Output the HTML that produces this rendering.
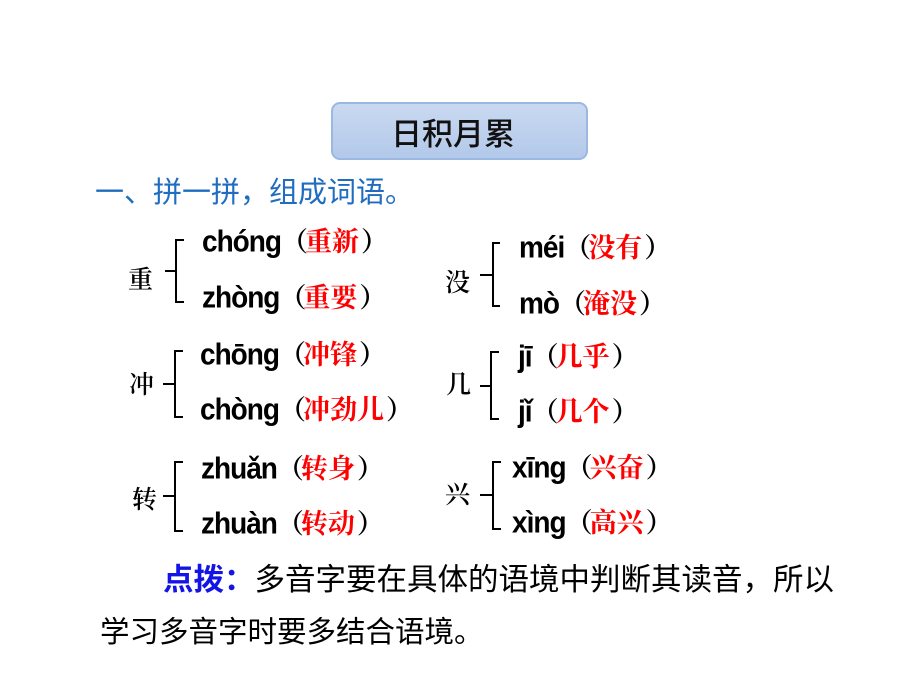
<!DOCTYPE html>
<html><head><meta charset="utf-8"><style>
body{margin:0;width:920px;height:690px;background:#fff;position:relative;overflow:hidden;font-family:"Liberation Sans","Noto Sans CJK SC",sans-serif}
.a{position:absolute;white-space:nowrap;line-height:1}
.title{position:absolute;left:331px;top:102px;width:257px;height:58px;border:2px solid #9bb8e2;border-radius:9px;background:linear-gradient(#c9d9f0,#b3c9ea);box-sizing:border-box}
.py{font-size:28px;color:#000;font-family:"Liberation Sans",sans-serif;font-weight:bold;letter-spacing:-1px;display:inline-block;transform:scaleY(1.08)}
.cn{font-family:"Noto Serif CJK SC",serif;font-size:27px;font-weight:bold}
.r{color:#f00}
.l,.rp{display:inline-block;width:22px}
.l{text-align:right;padding-right:2px}
.rp{text-align:left;padding-left:2px}
.lab{font-family:"Noto Serif CJK SC",serif;font-size:25px;color:#000;font-weight:600}
</style></head><body>
<div class="title"></div>
<div class="a" style="left:391px;top:116px;font-size:31px;font-family:'Noto Sans CJK SC',sans-serif;color:#111;font-weight:500">日积月累</div>
<div class="a" style="left:95px;top:176px;font-size:29px;color:#1f6cc0;font-family:'Noto Sans CJK SC',sans-serif">一、拼一拼，组成词语。</div>

<svg width="920" height="690" style="position:absolute;left:0;top:0" fill="none" stroke="#000" stroke-width="2">
<path d="M184 240 H176 V302 H184 M176 271 H165"/>
<path d="M500 243 H493 V306 H500 M493 275 H480"/>
<path d="M183 351 H175 V417 H183 M175 384 H163"/>
<path d="M499 352 H491 V419 H499 M491 386 H480"/>
<path d="M183 462 H175 V531 H183 M175 496 H163"/>
<path d="M501 462 H493 V529 H501 M493 495 H480"/>
</svg>

<div class="a lab" style="left:128px;top:266px">重</div>
<div class="a" style="left:202px;top:226px"><span class="py">chóng</span><span class="cn"><span class="l">（</span><span class="r">重新</span><span class="rp">）</span></span></div>
<div class="a" style="left:202px;top:282px"><span class="py">zhòng</span><span class="cn"><span class="l">（</span><span class="r">重要</span><span class="rp">）</span></span></div>

<div class="a lab" style="left:445px;top:269px">没</div>
<div class="a" style="left:519px;top:232px"><span class="py">méi</span><span class="cn"><span class="l">（</span><span class="r">没有</span><span class="rp">）</span></span></div>
<div class="a" style="left:519px;top:288px"><span class="py">mò</span><span class="cn"><span class="l">（</span><span class="r">淹没</span><span class="rp">）</span></span></div>

<div class="a lab" style="left:129px;top:371px">冲</div>
<div class="a" style="left:200px;top:339px"><span class="py">chōng</span><span class="cn"><span class="l">（</span><span class="r">冲锋</span><span class="rp">）</span></span></div>
<div class="a" style="left:200px;top:394px"><span class="py">chòng</span><span class="cn"><span class="l">（</span><span class="r">冲劲儿</span><span class="rp">）</span></span></div>

<div class="a lab" style="left:446px;top:371px">几</div>
<div class="a" style="left:518px;top:341px"><span class="py">jī</span><span class="cn"><span class="l">（</span><span class="r">几乎</span><span class="rp">）</span></span></div>
<div class="a" style="left:518px;top:396px"><span class="py">jǐ</span><span class="cn"><span class="l">（</span><span class="r">几个</span><span class="rp">）</span></span></div>

<div class="a lab" style="left:132px;top:486px">转</div>
<div class="a" style="left:201px;top:453px"><span class="py">zhuǎn</span><span class="cn"><span class="l">（</span><span class="r">转身</span><span class="rp">）</span></span></div>
<div class="a" style="left:201px;top:508px"><span class="py">zhuàn</span><span class="cn"><span class="l">（</span><span class="r">转动</span><span class="rp">）</span></span></div>

<div class="a lab" style="left:445px;top:481px">兴</div>
<div class="a" style="left:512px;top:452px"><span class="py">xīng</span><span class="cn"><span class="l">（</span><span class="r">兴奋</span><span class="rp">）</span></span></div>
<div class="a" style="left:512px;top:507px"><span class="py">xìng</span><span class="cn"><span class="l">（</span><span class="r">高兴</span><span class="rp">）</span></span></div>

<div class="a" style="left:163px;top:562px;font-size:30.5px;font-family:'Noto Sans CJK SC',sans-serif;color:#000"><span style="color:#1414e6;font-weight:bold">点拨：</span>多音字要在具体的语境中判断其读音，所以</div>
<div class="a" style="left:100px;top:616px;font-size:29.5px;font-family:'Noto Sans CJK SC',sans-serif;color:#000">学习多音字时要多结合语境。</div>
</body></html>
